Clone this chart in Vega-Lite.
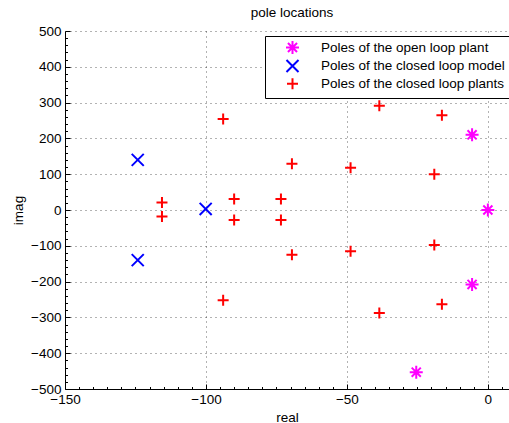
{
  "$schema": "https://vega.github.io/schema/vega-lite/v6.json",
  "width": 444,
  "height": 358,
  "autosize": {"type": "none"},
  "padding": {"left": 65, "top": 31, "right": 0, "bottom": 34},
  "background": "white",
  "title": {"text": "pole locations", "fontSize": 13.5, "fontWeight": "normal", "font": "Liberation Sans", "color": "#000", "offset": 5, "dx": 5},
  "config": {
    "view": {"stroke": null},
    "font": "Liberation Sans"
  },
  "data": {
    "values": [
      {"series": "Poles of the open loop plant", "re": 0, "im": 0},
      {"series": "Poles of the open loop plant", "re": -5.6, "im": 210},
      {"series": "Poles of the open loop plant", "re": -5.6, "im": -208},
      {"series": "Poles of the open loop plant", "re": -25.4, "im": -453},
      {"series": "Poles of the closed loop model", "re": -124.2, "im": 140},
      {"series": "Poles of the closed loop model", "re": -124.2, "im": -140},
      {"series": "Poles of the closed loop model", "re": -100.1, "im": 3},
      {"series": "Poles of the closed loop plants", "re": -38.5, "im": 291},
      {"series": "Poles of the closed loop plants", "re": -16.3, "im": 265},
      {"series": "Poles of the closed loop plants", "re": -48.7, "im": 118},
      {"series": "Poles of the closed loop plants", "re": -19, "im": 100},
      {"series": "Poles of the closed loop plants", "re": -48.7, "im": -115},
      {"series": "Poles of the closed loop plants", "re": -19, "im": -98},
      {"series": "Poles of the closed loop plants", "re": -38.5, "im": -288},
      {"series": "Poles of the closed loop plants", "re": -16.3, "im": -263},
      {"series": "Poles of the closed loop plants", "re": -93.9, "im": 254},
      {"series": "Poles of the closed loop plants", "re": -93.9, "im": -252},
      {"series": "Poles of the closed loop plants", "re": -69.5, "im": 129},
      {"series": "Poles of the closed loop plants", "re": -69.5, "im": -125},
      {"series": "Poles of the closed loop plants", "re": -115.6, "im": 21},
      {"series": "Poles of the closed loop plants", "re": -115.6, "im": -18},
      {"series": "Poles of the closed loop plants", "re": -90, "im": 31},
      {"series": "Poles of the closed loop plants", "re": -90, "im": -28},
      {"series": "Poles of the closed loop plants", "re": -73.4, "im": 31},
      {"series": "Poles of the closed loop plants", "re": -73.4, "im": -28}
    ]
  },
  "mark": {"type": "point", "filled": false, "strokeWidth": 2, "opacity": 1, "clip": false},
  "encoding": {
    "x": {
      "field": "re", "type": "quantitative",
      "scale": {"domain": [-150, 7.5], "nice": false, "zero": false},
      "axis": {
        "title": "real",
        "titleFontSize": 13.5, "titleFontWeight": "normal", "titleColor": "#000", "titlePadding": 2,
        "values": [-150,-145,-140,-135,-130,-125,-120,-115,-110,-105,-100,-95,-90,-85,-80,-75,-70,-65,-60,-55,-50,-45,-40,-35,-30,-25,-20,-15,-10,-5,0,5],
        "labelExpr": "datum.value % 50 === 0 ? datum.label : ''",
        "labelOverlap": false, "labelFlush": false,
        "labelFontSize": 13.5, "labelColor": "#000", "labelPadding": 8,
        "domainColor": "#000", "domainWidth": 1,
        "tickColor": "#000", "tickWidth": 1,
        "tickSize": {"condition": {"test": "datum.value % 50 === 0", "value": -5}, "value": -2.5},
        "grid": true,
        "gridColor": "#000", "gridDash": [1, 4], "gridWidth": 1,
        "gridOpacity": {"condition": {"test": "datum.value % 50 === 0 && datum.value > -150", "value": 0.6}, "value": 0}
      }
    },
    "y": {
      "field": "im", "type": "quantitative",
      "scale": {"domain": [-500, 500], "nice": false, "zero": false},
      "axis": {
        "title": "imag",
        "titleFontSize": 13.5, "titleFontWeight": "normal", "titleColor": "#000", "titlePadding": 5,
        "values": [-500,-480,-460,-440,-420,-400,-380,-360,-340,-320,-300,-280,-260,-240,-220,-200,-180,-160,-140,-120,-100,-80,-60,-40,-20,0,20,40,60,80,100,120,140,160,180,200,220,240,260,280,300,320,340,360,380,400,420,440,460,480,500],
        "labelExpr": "datum.value % 100 === 0 ? datum.label : ''",
        "labelOverlap": false, "labelFlush": false,
        "labelFontSize": 13.5, "labelColor": "#000", "labelPadding": 9,
        "domainColor": "#000", "domainWidth": 1,
        "tickColor": "#000", "tickWidth": 1,
        "tickSize": {"condition": {"test": "datum.value % 100 === 0", "value": -5}, "value": -2.5},
        "grid": true,
        "gridColor": "#000", "gridDash": [1, 4], "gridWidth": 1,
        "gridOpacity": {"condition": {"test": "datum.value % 100 === 0 && datum.value > -500", "value": 0.6}, "value": 0}
      }
    },
    "color": {
      "field": "series", "type": "nominal",
      "scale": {"domain": ["Poles of the open loop plant", "Poles of the closed loop model", "Poles of the closed loop plants"], "range": ["#ff00ff", "#0000ff", "#ff0000"]},
      "legend": {
        "title": null, "orient": "none", "legendX": 200, "legendY": 5,
        "padding": 4, "symbolOffset": 16, "labelOffset": 21,
        "strokeColor": "#000", "fillColor": "#fff", "cornerRadius": 0,
        "labelFontSize": 13.5, "labelColor": "#000", "labelLimit": 400,
        "symbolStrokeWidth": 2, "rowPadding": -2.5
      }
    },
    "shape": {
      "field": "series", "type": "nominal",
      "scale": {"domain": ["Poles of the open loop plant", "Poles of the closed loop model", "Poles of the closed loop plants"], "range": ["M-1,0L1,0M0,-1L0,1M-0.7,-0.7L0.7,0.7M-0.7,0.7L0.7,-0.7", "M-1,-1L1,1M-1,1L1,-1", "M-1,0L1,0M0,-1L0,1"]}
    },
    "size": {
      "field": "series", "type": "nominal",
      "scale": {"domain": ["Poles of the open loop plant", "Poles of the closed loop model", "Poles of the closed loop plants"], "range": [169, 121, 196]}
    }
  }
}
